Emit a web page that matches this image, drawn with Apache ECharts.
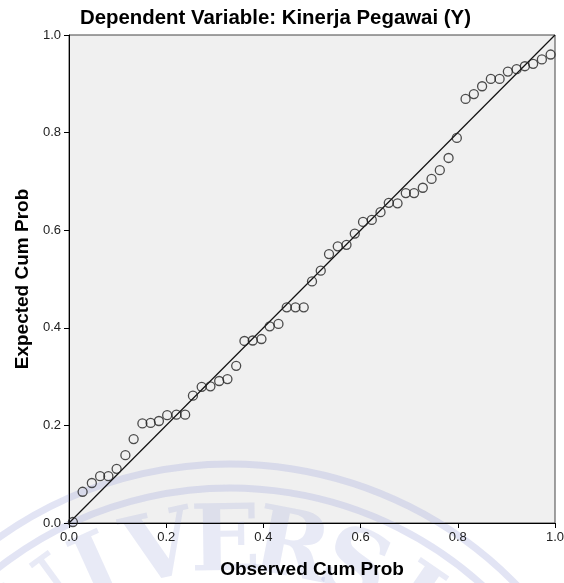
<!DOCTYPE html>
<html>
<head>
<meta charset="utf-8">
<script src="https://cdn.jsdelivr.net/npm/echarts@6/dist/echarts.min.js"></script>
<style>
html,body{margin:0;padding:0;background:#fff;}
#chart{width:564px;height:583px;}
</style>
</head>
<body>
<div id="chart"></div>
<script>
// Observed cumulative probability (x) and expected cumulative probability (y)
var observedCumProb = [0.008,0.028,0.047,0.064,0.081,0.098,0.116,0.133,0.151,0.168,0.185,0.202,0.221,0.239,0.255,0.273,0.291,0.309,0.326,0.344,0.361,0.378,0.396,0.413,0.431,0.448,0.466,0.483,0.500,0.518,0.535,0.553,0.571,0.588,0.605,0.623,0.641,0.658,0.676,0.693,0.710,0.728,0.746,0.763,0.781,0.798,0.816,0.833,0.850,0.868,0.886,0.903,0.921,0.938,0.955,0.973,0.991];
var expectedCumProb = [0.002,0.064,0.082,0.096,0.096,0.111,0.139,0.172,0.204,0.205,0.209,0.221,0.222,0.222,0.261,0.279,0.280,0.291,0.295,0.322,0.373,0.374,0.377,0.403,0.408,0.442,0.442,0.442,0.495,0.517,0.551,0.567,0.570,0.593,0.617,0.621,0.637,0.656,0.655,0.676,0.676,0.687,0.705,0.723,0.748,0.789,0.869,0.879,0.895,0.910,0.910,0.925,0.930,0.936,0.941,0.950,0.960];
var referenceLine = [[0,0],[1,1]];
var titleText = 'Dependent Variable: Kinerja Pegawai (Y)';
var xName = 'Observed Cum Prob';
var yName = 'Expected Cum Prob';
var watermarkLetters = ['U','N','I','V','E','R','S','I','T','A','S'];

var points = observedCumProb.map(function(x,i){return [x, expectedCumProb[i]];});
var FONT = 'Arial, "Liberation Sans", sans-serif';

// faint background watermark (decoration)
var wm = [];
var cx = 230, cy = 864;
[376, 400].forEach(function(r){
  wm.push({type:'arc', shape:{cx:cx, cy:cy, r:r, startAngle:Math.PI*1.05, endAngle:Math.PI*1.95},
    style:{stroke:'rgba(165,172,222,0.32)', lineWidth:7, fill:null}, silent:true});
});
watermarkLetters.forEach(function(ch, i){
  var th = (-48 + i*11.8) * Math.PI/180;
  var r = 318;
  wm.push({type:'text', x: cx + r*Math.sin(th), y: cy - r*Math.cos(th), rotation: -th,
    style:{text:ch, font:'bold 92px "DejaVu Serif", serif', fill:'rgba(165,172,222,0.26)',
      align:'center', verticalAlign:'middle'}, silent:true});
});

var chart = echarts.init(document.getElementById('chart'), null, {renderer:'canvas'});
function axis(name, gap){
  return {
    type:'value', min:0, max:1, interval:0.2,
    name:name, nameLocation:'middle', nameGap:gap,
    nameTextStyle:{fontFamily:FONT, fontSize:19, fontWeight:'bold', color:'#000'},
    axisLine:{show:true, onZero:false, lineStyle:{color:'#000', width:1}},
    axisTick:{show:true, inside:false, length:5, lineStyle:{color:'#000'}},
    axisLabel:{fontFamily:FONT, fontSize:13, color:'#222', margin:8,
      formatter:function(v){return v.toFixed(1);}},
    splitLine:{show:false}
  };
}
chart.setOption({
  animation:false,
  backgroundColor:'#fff',
  title:{text:titleText, left:80, top:8, padding:0,
    textStyle:{fontFamily:FONT, fontSize:20.4, fontWeight:'bold', color:'#000'}},
  grid:{left:69, top:35, width:486, height:488, show:true, containLabel:false,
    outerBoundsMode:'none',
    backgroundColor:'#f0f0f0', borderColor:'#444', borderWidth:1},
  xAxis:axis(xName, 37),
  yAxis:axis(yName, 36),
  graphic:{elements:[{type:'group', z:100, silent:true, children:wm}]},
  series:[
    {type:'line', data:referenceLine, symbol:'none', silent:true,
     lineStyle:{color:'#111', width:1.2}, z:2},
    {type:'scatter', data:points, symbol:'circle', symbolSize:9,
     itemStyle:{color:'rgba(0,0,0,0)', borderColor:'#222', borderWidth:1.3}, z:3}
  ]
});
</script>
</body>
</html>
